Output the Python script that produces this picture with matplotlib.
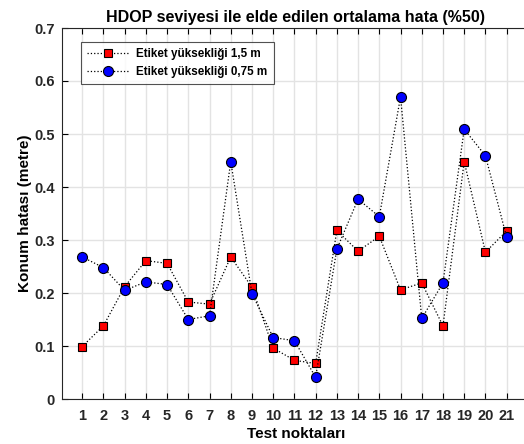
import matplotlib
matplotlib.use("Agg")
import matplotlib.pyplot as plt
import numpy as np

points = list(range(1, 22))
h15 = [0.099, 0.138, 0.212, 0.261, 0.256, 0.183, 0.179, 0.268, 0.211, 0.096, 0.073,
       0.067, 0.318, 0.279, 0.307, 0.206, 0.219, 0.138, 0.448, 0.277, 0.317]
h075 = [0.268, 0.248, 0.205, 0.221, 0.216, 0.150, 0.157, 0.448, 0.199, 0.116, 0.110,
        0.041, 0.283, 0.377, 0.344, 0.570, 0.152, 0.219, 0.509, 0.459, 0.305]
labels = ["Etiket yüksekliği 1,5 m", "Etiket yüksekliği 0,75 m"]
title = "HDOP seviyesi ile elde edilen ortalama hata (%50)"
xlabel = "Test noktaları"
ylabel = "Konum hatası (metre)"

plt.rcParams['font.family'] = ['Liberation Sans', 'DejaVu Sans']
plt.rcParams['font.weight'] = 'bold'

W, H = 524, 444
fig = plt.figure(figsize=(W / 100, H / 100), dpi=100)
left, right, top, bottom = 62, 530, 28, 399
ax = fig.add_axes([left / W, 1 - bottom / H, (right - left) / W, (bottom - top) / H])

ax.plot(points, h15, linestyle=':', color='black', linewidth=0.9,
        marker='s', markersize=5.5, markerfacecolor='#ff0000', markeredgecolor='black',
        markeredgewidth=0.8, label=labels[0])
ax.plot(points, h075, linestyle=':', color='black', linewidth=0.9,
        marker='o', markersize=7.2, markerfacecolor='#0000ff', markeredgecolor='black',
        markeredgewidth=0.8, label=labels[1])

ax.set_xlim(0.05, 22.1)
ax.set_ylim(0, 0.7)
ax.set_xticks(points)
ax.set_yticks(np.arange(0, 0.71, 0.1))
ax.set_yticklabels(['0'] + [f'{v:.1f}' for v in np.arange(0.1, 0.71, 0.1)])
ax.grid(True, color='#e3e3e3', linewidth=1.0)
ax.set_axisbelow(True)
ax.tick_params(axis='both', direction='in', top=True, right=False, labelsize=10.5,
               length=4, width=0.8)
ax.tick_params(axis='y', pad=5)
ax.tick_params(axis='x', pad=7)
for lbl in ax.get_xticklabels() + ax.get_yticklabels():
    lbl.set_fontweight('bold')
    lbl.set_color('#262626')
for s in ['left', 'bottom', 'top']:
    ax.spines[s].set_color('#262626')
    ax.spines[s].set_linewidth(0.8)
ax.spines['right'].set_visible(False)

ax.set_title(title, fontsize=11.5, fontweight='bold', pad=4)
ax.set_xlabel(xlabel, fontsize=11, fontweight='bold', labelpad=3)
ax.set_ylabel(ylabel, fontsize=11, fontweight='bold', labelpad=2)

leg = ax.legend(loc='upper left', bbox_to_anchor=((81 - left) / (right - left), 1 - (42 - top) / (bottom - top)),
                prop={'size': 8.4, 'weight': 'bold'}, frameon=True, fancybox=False, edgecolor='#262626',
                borderaxespad=0, handlelength=3.5, handletextpad=0.7, borderpad=0.55, labelspacing=0.45)
leg.get_frame().set_linewidth(0.8)

fig.savefig('out.png', dpi=100)
